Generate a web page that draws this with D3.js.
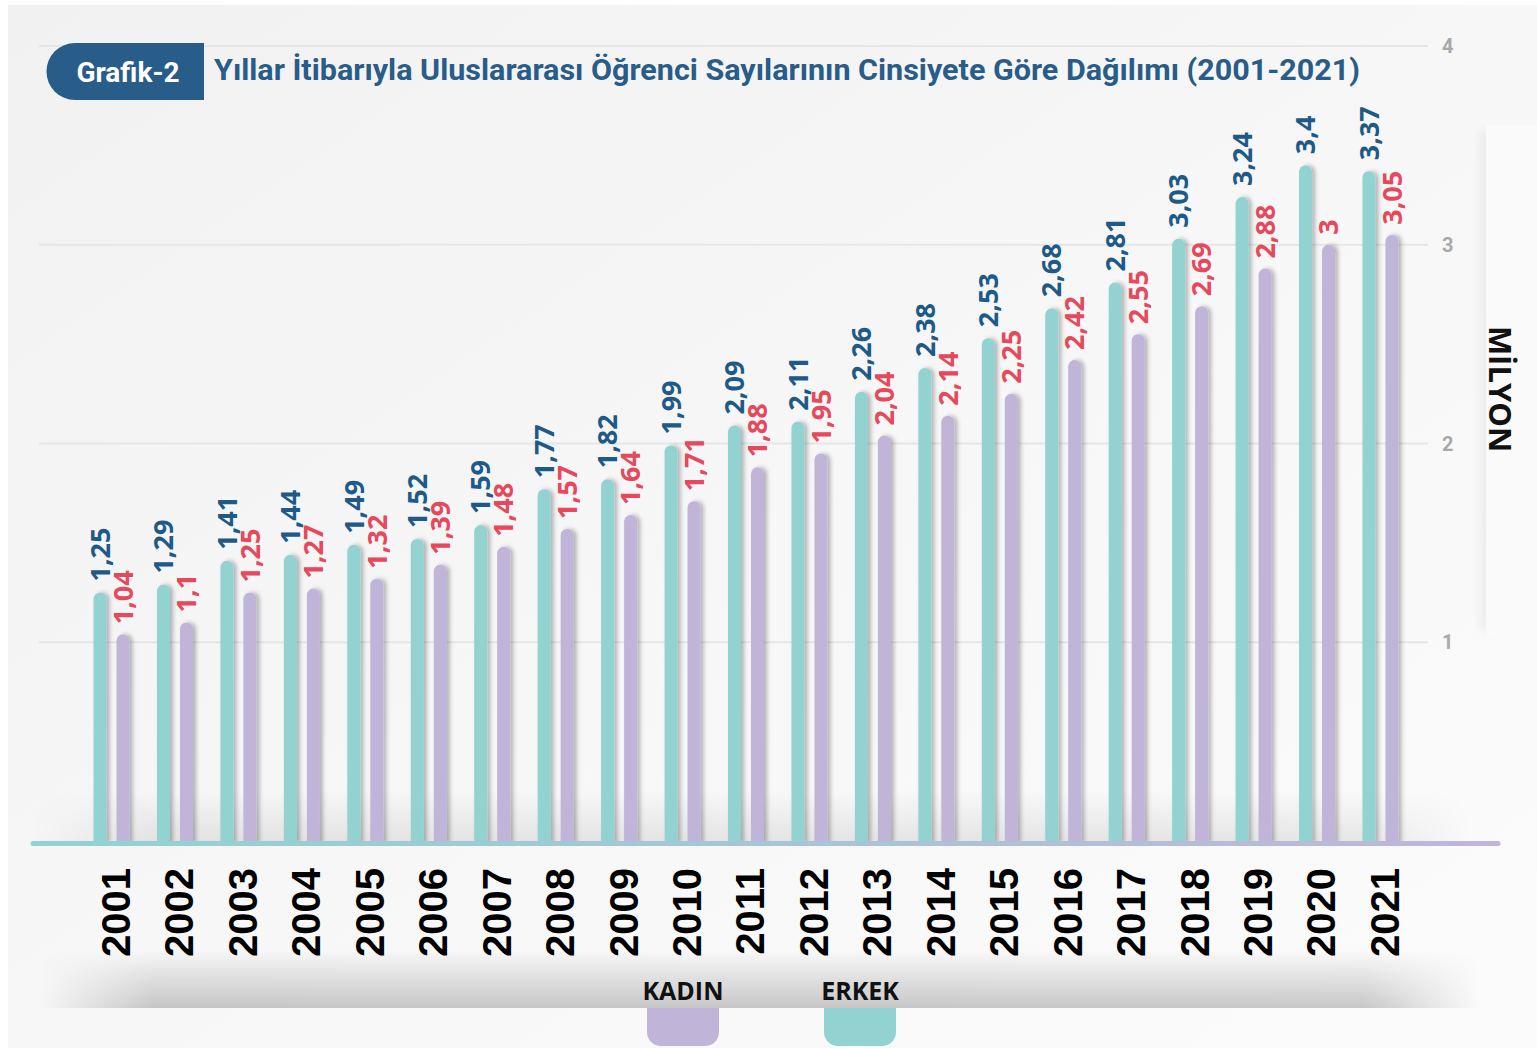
<!DOCTYPE html>
<html>
<head>
<meta charset="utf-8">
<script src="https://cdn.jsdelivr.net/npm/d3@7"></script>
<style>
  html, body { margin: 0; padding: 0; background: #ffffff; }
  svg { display: block; }
</style>
</head>
<body>
<div id="chart"></div>
<script>
var years = ["2001","2002","2003","2004","2005","2006","2007","2008","2009","2010","2011",
             "2012","2013","2014","2015","2016","2017","2018","2019","2020","2021"];
var erkek = [1.25,1.29,1.41,1.44,1.49,1.52,1.59,1.77,1.82,1.99,2.09,2.11,2.26,2.38,2.53,2.68,2.81,3.03,3.24,3.4,3.37];
var kadin = [1.04,1.1,1.25,1.27,1.32,1.39,1.48,1.57,1.64,1.71,1.88,1.95,2.04,2.14,2.25,2.42,2.55,2.69,2.88,3,3.05];
var yTicks = [1, 2, 3, 4];
var legendLabels = ["KADIN", "ERKEK"];
var titleText = "Yıllar İtibarıyla Uluslararası Öğrenci Sayılarının Cinsiyete Göre Dağılımı (2001-2021)";

var width = 1537, height = 1048;
var tealColor = "#92d3d1", lilacColor = "#c0b5d9";
var blueText = "#1d5a88", redText = "#e6485c";

var svg = d3.select("#chart").append("svg")
    .attr("width", width)
    .attr("height", height);

var defs = svg.append("defs");

// fond gris clair
var bg = defs.append("linearGradient").attr("id", "bg")
    .attr("x1", "0").attr("y1", "0").attr("x2", "1").attr("y2", "1");
bg.append("stop").attr("offset", "0").attr("stop-color", "#f1f1f1");
bg.append("stop").attr("offset", "0.5").attr("stop-color", "#f7f7f7");
bg.append("stop").attr("offset", "1").attr("stop-color", "#fbfbfb");

var base = defs.append("linearGradient").attr("id", "baseGrad")
    .attr("gradientUnits", "userSpaceOnUse")
    .attr("x1", 33).attr("x2", 1498).attr("y1", 0).attr("y2", 0);
base.append("stop").attr("offset", "0").attr("stop-color", tealColor);
base.append("stop").attr("offset", "0.55").attr("stop-color", "#a9c4d6");
base.append("stop").attr("offset", "1").attr("stop-color", lilacColor);

var band = defs.append("linearGradient").attr("id", "band")
    .attr("x1", "0").attr("y1", "0").attr("x2", "0").attr("y2", "1");
band.append("stop").attr("offset", "0").attr("stop-color", "#000").attr("stop-opacity", 0);
band.append("stop").attr("offset", "1").attr("stop-color", "#000").attr("stop-opacity", 0.2);

var floor = defs.append("linearGradient").attr("id", "floor")
    .attr("x1", "0").attr("y1", "0").attr("x2", "0").attr("y2", "1");
floor.append("stop").attr("offset", "0").attr("stop-color", "#000").attr("stop-opacity", 0);
floor.append("stop").attr("offset", "1").attr("stop-color", "#000").attr("stop-opacity", 0.08);

var hfade = defs.append("linearGradient").attr("id", "hfade");
hfade.append("stop").attr("offset", "0").attr("stop-color", "#fff").attr("stop-opacity", 0);
hfade.append("stop").attr("offset", "0.08").attr("stop-color", "#fff").attr("stop-opacity", 1);
hfade.append("stop").attr("offset", "0.92").attr("stop-color", "#fff").attr("stop-opacity", 1);
hfade.append("stop").attr("offset", "1").attr("stop-color", "#fff").attr("stop-opacity", 0);
defs.append("mask").attr("id", "fadeMask").attr("maskContentUnits", "objectBoundingBox")
    .append("rect").attr("width", 1).attr("height", 1).attr("fill", "url(#hfade)");

var shadow = defs.append("filter").attr("id", "barShadow")
    .attr("x", "-50%").attr("y", "-5%").attr("width", "250%").attr("height", "110%");
shadow.append("feDropShadow").attr("dx", 3).attr("dy", 0).attr("stdDeviation", 2)
    .attr("flood-color", "#000").attr("flood-opacity", 0.28);

var panelShadow = defs.append("filter").attr("id", "panelShadow")
    .attr("x", "-50%").attr("y", "-10%").attr("width", "200%").attr("height", "120%");
panelShadow.append("feGaussianBlur").attr("stdDeviation", 5);

svg.append("rect")
    .attr("x", 8).attr("y", 5)
    .attr("width", width - 8).attr("height", height - 5)
    .attr("fill", "url(#bg)");

// panneau blanc à droite (MİLYON)
svg.append("rect")
    .attr("x", 1480).attr("y", 130).attr("width", 12).attr("height", 500)
    .attr("fill", "#000").attr("opacity", 0.05)
    .attr("filter", "url(#panelShadow)");
svg.append("rect")
    .attr("x", 1486).attr("y", 125).attr("width", 60).attr("height", 510)
    .attr("fill", "#fafafa");

// bande sous les années
svg.append("rect")
    .attr("x", 40).attr("y", 950).attr("width", 1440).attr("height", 58)
    .attr("fill", "url(#band)")
    .attr("mask", "url(#fadeMask)");

var x = d3.scaleBand()
    .domain(years)
    .range([79.8, 1412.2])
    .padding(0);

var y = d3.scaleLinear()
    .domain([0, 4])
    .range([841, 46]);

var offset = 11.5, barW = 13;
function cx(yr) { return x(yr) + x.bandwidth() / 2; }

// grille
svg.append("g")
    .selectAll("line")
    .data(yTicks)
    .enter()
    .append("line")
    .attr("x1", 39).attr("x2", 1428)
    .attr("y1", d => y(d)).attr("y2", d => y(d))
    .attr("stroke", "#e6e6e6")
    .attr("stroke-width", 2);

svg.append("g")
    .selectAll("text")
    .data(yTicks)
    .enter()
    .append("text")
    .attr("x", 1442)
    .attr("y", d => y(d))
    .attr("dy", "0.36em")
    .style("font-family", "Roboto")
    .style("font-weight", "700")
    .style("font-size", "20px")
    .style("fill", "#a9a9a9")
    .text(d => d);

// ombre du sol
svg.append("rect")
    .attr("x", 32).attr("y", 790).attr("width", 1440).attr("height", 52)
    .attr("fill", "url(#floor)")
    .attr("mask", "url(#fadeMask)");

// barre avec coins arrondis en haut seulement
function barPath(cxv, v) {
    var r = barW / 2, top = y(v), bottom = y(0) + 2;
    var l = cxv - r, rr = cxv + r;
    return "M" + l + "," + bottom +
        "L" + l + "," + (top + r) +
        "A" + r + "," + r + " 0 0 1 " + rr + "," + (top + r) +
        "L" + rr + "," + bottom + "Z";
}

var bars = svg.append("g").attr("filter", "url(#barShadow)");

bars.selectAll("path.erkek")
    .data(years)
    .enter()
    .append("path")
    .attr("class", "erkek")
    .attr("d", (d, i) => barPath(cx(d) - offset, erkek[i]))
    .attr("fill", tealColor);

bars.selectAll("path.kadin")
    .data(years)
    .enter()
    .append("path")
    .attr("class", "kadin")
    .attr("d", (d, i) => barPath(cx(d) + offset, kadin[i]))
    .attr("fill", lilacColor);

// ligne de base
svg.append("line")
    .attr("x1", 33).attr("x2", 1498)
    .attr("y1", y(0) + 2.5).attr("y2", y(0) + 2.5)
    .attr("stroke", "url(#baseGrad)")
    .attr("stroke-width", 5)
    .attr("stroke-linecap", "round");

function fmt(v) { return String(v).replace(".", ","); }

var labels = svg.append("g")
    .style("font-family", "'Open Sans'")
    .style("font-weight", "700")
    .style("font-size", "27px");

labels.selectAll("text.erkek")
    .data(years)
    .enter()
    .append("text")
    .attr("transform", (d, i) => "translate(" + (cx(d) - offset) + "," + (y(erkek[i]) - 11) + ") rotate(-90)")
    .attr("dy", "0.36em")
    .style("fill", blueText)
    .text((d, i) => fmt(erkek[i]));

labels.selectAll("text.kadin")
    .data(years)
    .enter()
    .append("text")
    .attr("transform", (d, i) => "translate(" + (cx(d) + offset) + "," + (y(kadin[i]) - 10) + ") rotate(-90)")
    .attr("dy", "0.36em")
    .style("fill", redText)
    .text((d, i) => fmt(kadin[i]));

// années
svg.append("g")
    .selectAll("text")
    .data(years)
    .enter()
    .append("text")
    .attr("transform", d => "translate(" + (cx(d) + 4) + ",868) rotate(-90)")
    .attr("dy", "0.36em")
    .attr("text-anchor", "end")
    .style("font-family", "'Liberation Sans', Arial")
    .style("font-weight", "700")
    .style("font-size", "40px")
    .style("fill", "#000")
    .text(d => d);

// MİLYON
svg.append("text")
    .attr("transform", "translate(1500,389) rotate(90)")
    .attr("dy", "0.36em")
    .attr("text-anchor", "middle")
    .style("font-family", "'Open Sans'")
    .style("font-weight", "700")
    .style("font-size", "31px")
    .style("fill", "#111")
    .text("MİLYON");

// légende
var legendColors = [lilacColor, tealColor];
var legendX = [683, 860];
var legend = svg.append("g");
legend.selectAll("path")
    .data(legendLabels)
    .enter()
    .append("path")
    .attr("d", (d, i) => {
        var l = legendX[i] - 36, r = legendX[i] + 36, t = 1008, b = 1046, rad = 14;
        return "M" + l + "," + t + "L" + r + "," + t + "L" + r + "," + (b - rad) +
            "A" + rad + "," + rad + " 0 0 1 " + (r - rad) + "," + b +
            "L" + (l + rad) + "," + b +
            "A" + rad + "," + rad + " 0 0 1 " + l + "," + (b - rad) + "Z";
    })
    .attr("fill", (d, i) => legendColors[i]);

legend.selectAll("text")
    .data(legendLabels)
    .enter()
    .append("text")
    .attr("x", (d, i) => legendX[i])
    .attr("y", 1000)
    .attr("text-anchor", "middle")
    .style("font-family", "'Open Sans'")
    .style("font-weight", "700")
    .style("font-size", "25px")
    .style("fill", "#111")
    .text(d => d);

// titre
svg.append("path")
    .attr("d", "M204,43 L75,43 A28.5,28.5 0 0 0 75,100 L204,100 Z")
    .attr("fill", "#285c89");

svg.append("text")
    .attr("x", 128).attr("y", 71.5)
    .attr("dy", "0.36em")
    .attr("text-anchor", "middle")
    .style("font-family", "Roboto")
    .style("font-weight", "700")
    .style("font-size", "28px")
    .style("fill", "#fff")
    .text("Grafik-2");

svg.append("text")
    .attr("x", 214).attr("y", 70)
    .attr("dy", "0.36em")
    .attr("textLength", 1146)
    .attr("lengthAdjust", "spacingAndGlyphs")
    .style("font-family", "Roboto")
    .style("font-weight", "700")
    .style("font-size", "29px")
    .style("fill", "#285c89")
    .text(titleText);
</script>
</body>
</html>
